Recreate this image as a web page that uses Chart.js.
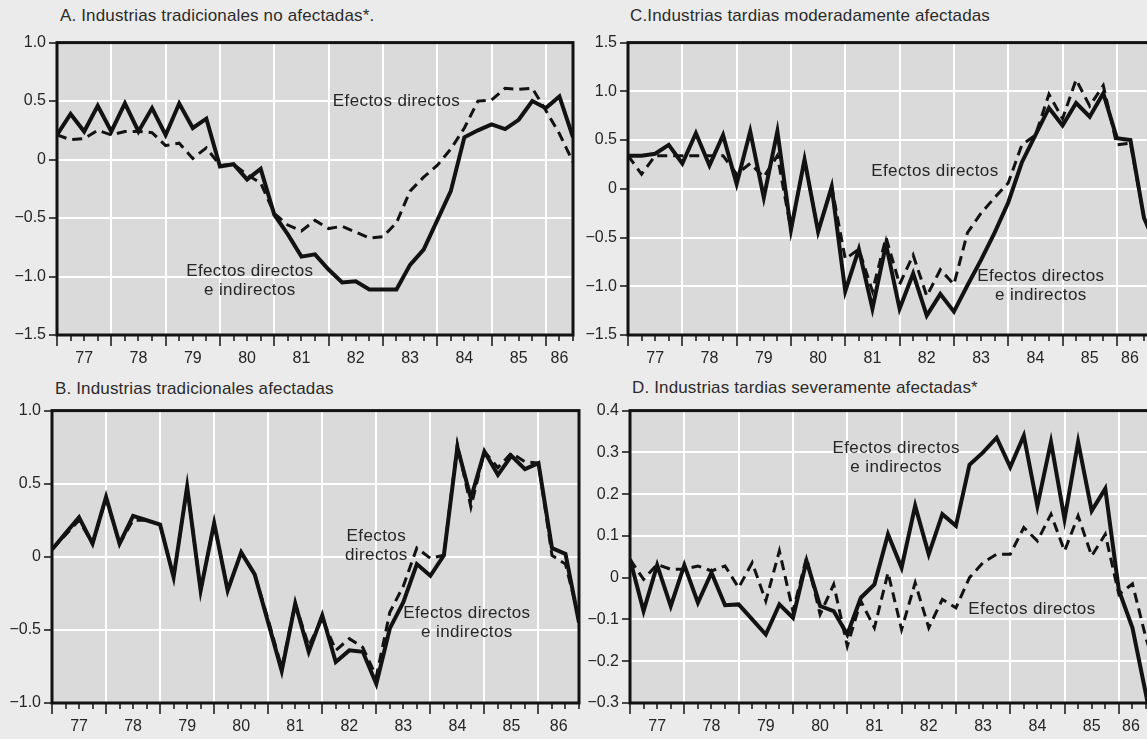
<!DOCTYPE html>
<html lang="es">
<head>
<meta charset="utf-8">
<title>Industrias: efectos directos e indirectos</title>
<script src="https://cdn.jsdelivr.net/npm/chart.js@4.4.1/dist/chart.umd.min.js"></script>
<style>
  html, body { margin: 0; padding: 0; width: 1147px; height: 739px; overflow: hidden; background: #ebebeb; }
  canvas { position: absolute; }
  .title {
    position: absolute; white-space: nowrap; color: #2b2b2b;
    font: 17px "Liberation Sans", Arial, Helvetica, sans-serif;
    letter-spacing: 0.15px; line-height: 17px;
  }
</style>
</head>
<body>
<div class="title" style="left:60px; top:7px">A. Industrias tradicionales no afectadas*.</div>
<div class="title" style="left:630px; top:7px">C.Industrias tardias moderadamente afectadas</div>
<div class="title" style="left:55px; top:380px">B. Industrias tradicionales afectadas</div>
<div class="title" style="left:632px; top:379px">D. Industrias tardias severamente afectadas*</div>
<canvas id="panelA"></canvas>
<canvas id="panelC"></canvas>
<canvas id="panelB"></canvas>
<canvas id="panelD"></canvas>
<script>
// Year labels on the horizontal axis; each year has four quarterly observations from 1977-I
const YEARS = ['77', '78', '79', '80', '81', '82', '83', '84', '85', '86'];

// A. Industrias tradicionales no afectadas
const A_TOTAL  = [0.21, 0.39, 0.24, 0.46, 0.24, 0.48, 0.24, 0.44, 0.21, 0.48, 0.27, 0.35,
                  -0.06, -0.04, -0.17, -0.08, -0.47, -0.64, -0.83, -0.81, -0.94, -1.05, -1.04, -1.11,
                  -1.11, -1.11, -0.90, -0.77, -0.52, -0.27, 0.19, 0.25, 0.30, 0.26, 0.34, 0.50,
                  0.44, 0.54, 0.19];
const A_DIRECT = [0.21, 0.17, 0.18, 0.25, 0.21, 0.24, 0.24, 0.23, 0.12, 0.14, 0.01, 0.10,
                  -0.05, -0.04, -0.13, -0.20, -0.46, -0.56, -0.61, -0.52, -0.59, -0.57, -0.62, -0.67,
                  -0.66, -0.54, -0.27, -0.15, -0.05, 0.09, 0.27, 0.50, 0.51, 0.61, 0.60, 0.61,
                  0.42, 0.22, -0.02];

// B. Industrias tradicionales afectadas
const B_TOTAL  = [0.05, 0.16, 0.27, 0.09, 0.41, 0.09, 0.28, 0.25, 0.22, -0.14, 0.48, -0.23,
                  0.23, -0.23, 0.03, -0.12, -0.45, -0.78, -0.32, -0.65, -0.40, -0.72, -0.64, -0.65,
                  -0.87, -0.49, -0.31, -0.05, -0.13, 0.01, 0.75, 0.40, 0.72, 0.56, 0.69, 0.60,
                  0.64, 0.06, 0.02, -0.45];
const B_DIRECT = [0.05, 0.15, 0.25, 0.09, 0.40, 0.09, 0.25, 0.25, 0.22, -0.14, 0.48, -0.23,
                  0.23, -0.23, 0.03, -0.12, -0.43, -0.76, -0.32, -0.61, -0.42, -0.64, -0.56, -0.62,
                  -0.82, -0.38, -0.20, 0.06, -0.01, 0.01, 0.77, 0.34, 0.72, 0.61, 0.71, 0.65,
                  0.64, 0.01, -0.05, -0.42];

// C. Industrias tardias moderadamente afectadas
const C_TOTAL  = [0.34, 0.34, 0.36, 0.45, 0.26, 0.57, 0.24, 0.55, 0.05, 0.59, -0.09, 0.59,
                  -0.42, 0.30, -0.44, 0.02, -1.05, -0.62, -1.23, -0.57, -1.23, -0.87, -1.30, -1.08,
                  -1.26, -0.99, -0.73, -0.45, -0.14, 0.27, 0.55, 0.83, 0.65, 0.88, 0.74, 0.98,
                  0.52, 0.50, -0.30, -0.62];
const C_DIRECT = [0.34, 0.15, 0.34, 0.34, 0.34, 0.34, 0.34, 0.34, 0.15, 0.26, 0.12, 0.34,
                  -0.42, 0.30, -0.44, 0.02, -0.72, -0.62, -1.05, -0.50, -0.98, -0.68, -1.10, -0.83,
                  -0.98, -0.45, -0.25, -0.09, 0.06, 0.45, 0.55, 0.97, 0.72, 1.12, 0.85, 1.06,
                  0.45, 0.47, -0.30, -0.62];

// D. Industrias tardias severamente afectadas
const D_TOTAL  = [0.044, -0.08, 0.03, -0.068, 0.03, -0.06, 0.012, -0.066, -0.064, -0.10, -0.136, -0.064,
                  -0.096, 0.04, -0.068, -0.08, -0.136, -0.048, -0.016, 0.104, 0.024, 0.172, 0.056, 0.152,
                  0.124, 0.27, 0.30, 0.335, 0.265, 0.34, 0.172, 0.325, 0.14, 0.325, 0.16, 0.213,
                  -0.03, -0.12, -0.28, -0.45];
const D_DIRECT = [0.044, -0.004, 0.032, 0.02, 0.02, 0.028, 0.016, 0.028, -0.024, 0.036, -0.056, 0.064,
                  -0.08, 0.048, -0.088, -0.016, -0.164, -0.056, -0.12, 0.012, -0.124, -0.012, -0.12, -0.052,
                  -0.072, 0.0, 0.036, 0.056, 0.056, 0.12, 0.088, 0.152, 0.064, 0.148, 0.052, 0.104,
                  -0.04, -0.015, -0.145, -0.25];

const FONT = '"Liberation Sans", Arial, Helvetica, sans-serif';
const INK = '#262626';
const LINE = '#121212';
const PLOT_BG = '#dadada';
const PAGE_W = 1147;

// Panel layout (canvas box and plot-area edges in page pixels) and text notes in data units
const PANELS = [
  { id: 'panelA', total: A_TOTAL, direct: A_DIRECT, yMin: -1.5, yMax: 1.0, yStep: 0.5, xMax: 38,
    box: { left: 0, top: 30, width: 580 }, area: { left: 57, right: 573, top: 41, bottom: 335 },
    notes: [ { x: 25.0, y: 0.50, lines: ['Efectos directos'] },
             { x: 14.2, y: -1.04, lines: ['Efectos directos', 'e indirectos'] } ] },
  { id: 'panelC', total: C_TOTAL, direct: C_DIRECT, yMin: -1.5, yMax: 1.5, yStep: 0.5, xMax: 39,
    box: { left: 575, top: 30, width: 590 }, area: { left: 628, right: 1157.6, top: 41, bottom: 335 },
    notes: [ { x: 22.6, y: 0.18, lines: ['Efectos directos'] },
             { x: 30.4, y: -1.0, lines: ['Efectos directos', 'e indirectos'] } ] },
  { id: 'panelB', total: B_TOTAL, direct: B_DIRECT, yMin: -1.0, yMax: 1.0, yStep: 0.5, xMax: 39,
    box: { left: 0, top: 398, width: 586 }, area: { left: 52, right: 579, top: 409, bottom: 703 },
    notes: [ { x: 24.0, y: 0.075, lines: ['Efectos', 'directos'] },
             { x: 30.7, y: -0.452, lines: ['Efectos directos', 'e indirectos'] } ] },
  { id: 'panelD', total: D_TOTAL, direct: D_DIRECT, yMin: -0.3, yMax: 0.4, yStep: 0.1, xMax: 39,
    box: { left: 575, top: 398, width: 592 }, area: { left: 630, right: 1159.6, top: 409, bottom: 703 },
    notes: [ { x: 19.6, y: 0.286, lines: ['Efectos directos', 'e indirectos'] },
             { x: 29.6, y: -0.076, lines: ['Efectos directos'] } ] }
];

const X_AXIS_H = 36;

// Grey plot area behind the grid
const plotFill = {
  id: 'plotFill',
  beforeDraw(chart) {
    const { ctx, chartArea: a } = chart;
    ctx.save();
    ctx.fillStyle = PLOT_BG;
    ctx.fillRect(a.left, a.top, a.right - a.left, a.bottom - a.top);
    ctx.restore();
  }
};

// Heavy frame around the plot area
const frame = {
  id: 'frame',
  afterDatasetsDraw(chart) {
    const { ctx, chartArea: a } = chart;
    ctx.save();
    ctx.strokeStyle = LINE;
    ctx.lineWidth = 3;
    ctx.strokeRect(a.left, a.top, a.right - a.left, a.bottom - a.top);
    ctx.restore();
  }
};

// Series names written inside the plot, placed through the chart scales
const notes = {
  id: 'notes',
  afterDraw(chart, args, opts) {
    const { ctx } = chart;
    const xs = chart.scales.x, ys = chart.scales.y;
    ctx.save();
    ctx.fillStyle = INK;
    ctx.font = '17px ' + FONT;
    if ('letterSpacing' in ctx) ctx.letterSpacing = '0.4px';
    ctx.textAlign = 'center';
    ctx.textBaseline = 'middle';
    const lh = 19;
    (opts.items || []).forEach(n => {
      const cx = xs.getPixelForValue(n.x);
      const cy = ys.getPixelForValue(n.y);
      const y0 = cy - (n.lines.length - 1) * lh / 2;
      n.lines.forEach((t, k) => ctx.fillText(t, cx, y0 + k * lh));
    });
    ctx.restore();
  }
};

function fmtY(v) {
  if (Math.abs(v) < 1e-9) return '0';
  const s = Math.abs(v).toFixed(1);
  return v < 0 ? '\u2212' + s : s;
}

function makeChart(p) {
  const cv = document.getElementById(p.id);
  const H = p.area.bottom - p.box.top + X_AXIS_H;
  cv.width = p.box.width;
  cv.height = H;
  cv.style.width = p.box.width + 'px';
  cv.style.height = H + 'px';
  cv.style.left = p.box.left + 'px';
  cv.style.top = p.box.top + 'px';

  // last quarter that falls inside the page, used to centre the final year label
  const perQuarter = (p.area.right - p.area.left) / p.xMax;
  const visibleMax = Math.min(p.xMax, (PAGE_W - 4 - p.area.left) / perQuarter);

  // quarterly tick marks, plus year labels centred on the visible part of each year
  const labelAt = new Map();
  YEARS.forEach((yr, k) => {
    const s = 4 * k, e = Math.min(s + 4, visibleMax);
    if (s < p.xMax) labelAt.set(+((s + e) / 2).toFixed(2), yr);
  });
  const xTicks = [];
  for (let q = 0; q <= p.xMax; q++) xTicks.push(q);
  labelAt.forEach((_, v) => { if (!xTicks.includes(v)) xTicks.push(v); });
  xTicks.sort((a, b) => a - b);

  const isQuarter = v => Math.abs(v - Math.round(v)) < 1e-6;
  const isYear = v => isQuarter(v) && Math.round(v) % 4 === 0;

  return new Chart(cv, {
    type: 'line',
    data: {
      datasets: [
        { label: 'Efectos directos e indirectos',
          data: p.total.map((v, i) => ({ x: i, y: v })),
          borderColor: LINE, borderWidth: 4, pointRadius: 0, tension: 0,
          borderJoinStyle: 'miter', borderCapStyle: 'butt', fill: false },
        { label: 'Efectos directos',
          data: p.direct.map((v, i) => ({ x: i, y: v })),
          borderColor: LINE, borderWidth: 3, borderDash: [10, 6], pointRadius: 0, tension: 0,
          borderJoinStyle: 'miter', borderCapStyle: 'butt', fill: false }
      ]
    },
    options: {
      responsive: false,
      animation: false,
      devicePixelRatio: 1,
      events: [],
      layout: { padding: { left: 0, top: p.area.top - p.box.top,
                           right: p.box.left + p.box.width - p.area.right, bottom: 0 } },
      plugins: { legend: { display: false }, tooltip: { enabled: false }, notes: { items: p.notes } },
      scales: {
        x: {
          type: 'linear', position: 'bottom', min: 0, max: p.xMax,
          afterBuildTicks: s => { s.ticks = xTicks.map(v => ({ value: v })); },
          afterFit: s => { s.height = X_AXIS_H; },
          border: { display: false },
          grid: {
            drawOnChartArea: true, drawTicks: true, tickLength: 11,
            color: c => (isYear(c.tick.value) && c.tick.value > 0 && c.tick.value < p.xMax) ? '#ffffff' : 'rgba(0,0,0,0)',
            lineWidth: 2,
            tickColor: c => isQuarter(c.tick.value) ? LINE : 'rgba(0,0,0,0)',
            tickWidth: 1.5,
            tickBorderDash: c => isYear(c.tick.value) ? [] : [6, 40]
          },
          ticks: {
            autoSkip: false, maxRotation: 0, minRotation: 0, padding: 3,
            color: INK, font: { family: FONT, size: 16 },
            callback: v => labelAt.get(+Number(v).toFixed(2)) || ''
          }
        },
        y: {
          type: 'linear', position: 'left', min: p.yMin, max: p.yMax,
          afterFit: s => { s.width = p.area.left - p.box.left; },
          border: { display: false },
          grid: { color: '#ffffff', lineWidth: 2, tickLength: 8, tickColor: LINE, tickWidth: 1.5 },
          ticks: { stepSize: p.yStep, padding: 3, color: INK, font: { family: FONT, size: 16 },
                   callback: v => fmtY(v) }
        }
      }
    },
    plugins: [plotFill, frame, notes]
  });
}

PANELS.forEach(makeChart);
</script>
</body>
</html>
